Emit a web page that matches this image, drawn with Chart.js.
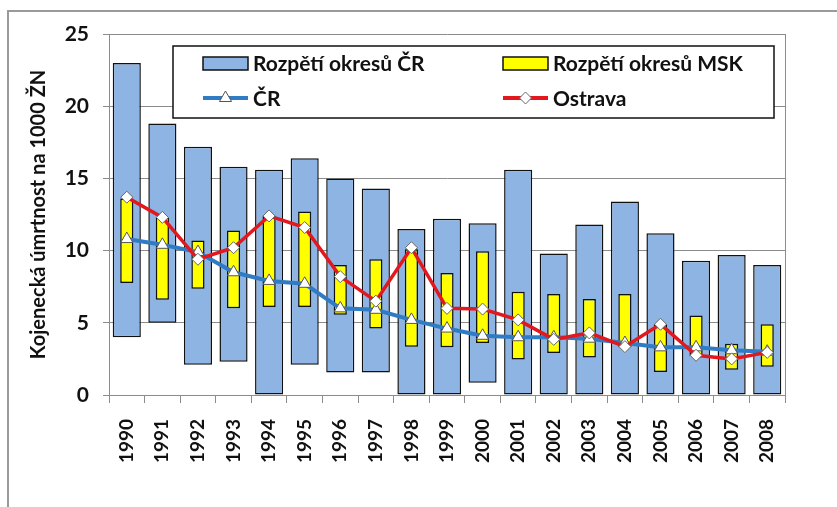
<!DOCTYPE html>
<html lang="cs">
<head>
<meta charset="UTF-8">
<title>Kojenecká úmrtnost</title>
<script src="https://cdn.jsdelivr.net/npm/chart.js"></script>
<style>
  body {
    margin: 0;
    background: #fff;
  }
  #wrap {
    width: 837px;
    height: 507px;
  }
</style>
</head>
<body>

<div id="wrap"><canvas id="chart" width="837" height="507"></canvas></div>

<script>
const years = ['1990', '1991', '1992', '1993', '1994', '1995', '1996', '1997', '1998', '1999',
  '2000', '2001', '2002', '2003', '2004', '2005', '2006', '2007', '2008'];

// rozpětí okresů ČR (min, max)
const crMin = [4.0, 5.0, 2.1, 2.3, 0, 2.1, 1.55, 1.55, 0, 0, 0.85, 0, 0, 0, 0, 0, 0, 0, 0];
const crMax = [23.0, 18.8, 17.2, 15.8, 15.6, 16.4, 15.0, 14.3, 11.5, 12.2, 11.9, 15.6, 9.8, 11.8, 13.4, 11.2, 9.3, 9.7, 9.0];

// rozpětí okresů MSK (min, max)
const mskMin = [7.75, 6.6, 7.35, 6.0, 6.1, 6.1, 5.55, 4.6, 3.35, 3.3, 3.6, 2.45, 2.9, 2.6, 3.3, 1.6, 2.7, 1.75, 1.95];
const mskMax = [13.6, 12.3, 10.7, 11.4, 12.4, 12.7, 9.0, 9.4, 10.1, 8.45, 9.95, 7.15, 7.0, 6.65, 7.0, 4.9, 5.5, 3.55, 4.9];

const crLine = [10.8, 10.4, 9.9, 8.5, 7.9, 7.7, 6.0, 5.9, 5.2, 4.6, 4.1, 4.0, 4.0, 3.9, 3.6, 3.3, 3.3, 3.1, 3.0];
const ostrava = [13.7, 12.3, 9.4, 10.2, 12.4, 11.6, 8.2, 6.5, 10.2, 6.0, 5.95, 5.2, 3.85, 4.3, 3.35, 4.9, 2.75, 2.5, 2.95];

const yTicks = [0, 5, 10, 15, 20, 25];

const FONT = 'Lato, "Open Sans", sans-serif';

// frame + right border of the plot
const framePlugin = {
  id: 'frame',
  beforeDraw(chart) {
    const c = chart.ctx;
    c.save();
    c.fillStyle = '#fff';
    c.fillRect(0, 0, chart.width, chart.height);
    c.strokeStyle = '#9a9a9a';
    c.lineWidth = 2;
    c.beginPath();
    c.moveTo(8, chart.height);
    c.lineTo(8, 11);
    c.lineTo(chart.width, 11);
    c.stroke();
    c.restore();
  },
  afterDatasetsDraw(chart) {
    const a = chart.chartArea;
    const c = chart.ctx;
    c.save();
    c.strokeStyle = '#8c8c8c';
    c.lineWidth = 1;
    c.beginPath();
    c.moveTo(a.right + 0.5, a.top);
    c.lineTo(a.right + 0.5, a.bottom);
    c.stroke();
    c.restore();
  }
};

// legend drawn inside the plot, two columns
const legendBox = {
  id: 'legendBox',
  afterDraw(chart) {
    const c = chart.ctx;
    const ds = chart.data.datasets;
    const box = { x: 173, y: 46, w: 601, h: 72 };
    c.save();
    c.fillStyle = '#fff';
    c.fillRect(box.x, box.y, box.w, box.h);
    c.strokeStyle = '#111';
    c.lineWidth = 1.5;
    c.strokeRect(box.x, box.y, box.w, box.h);

    const slots = [
      { d: ds[3], x: 203, y: 63 },
      { d: ds[2], x: 503, y: 63 },
      { d: ds[1], x: 203, y: 98 },
      { d: ds[0], x: 503, y: 98 }
    ];
    slots.forEach(s => {
      const d = s.d;
      if (d.type === 'bar') {
        c.fillStyle = d.backgroundColor;
        c.fillRect(s.x, s.y - 6, 45, 13);
        c.strokeStyle = '#111';
        c.lineWidth = 1.5;
        c.strokeRect(s.x, s.y - 6, 45, 13);
      } else {
        c.strokeStyle = d.borderColor;
        c.lineWidth = 4;
        c.beginPath();
        c.moveTo(s.x, s.y);
        c.lineTo(s.x + 45, s.y);
        c.stroke();
        c.fillStyle = '#fff';
        c.strokeStyle = d.pointBorderColor;
        c.lineWidth = 1;
        Chart.helpers.drawPoint(c, {
          pointStyle: d.pointStyle, radius: d.pointRadius, borderWidth: 1
        }, s.x + 22.5, s.y);
      }
      c.font = 'bold 21px ' + FONT;
      c.textBaseline = 'middle';
      c.fillStyle = '#111';
      c.fillText(d.label, s.x + 50, s.y + 1);
    });
    c.restore();
  }
};

new Chart(document.getElementById('chart'), {
  data: {
    labels: years,
    datasets: [
      {
        type: 'line',
        label: 'Ostrava',
        data: ostrava,
        borderColor: '#e3171e',
        borderWidth: 3.5,
        pointStyle: 'rectRot',
        pointRadius: 6,
        pointBackgroundColor: '#fff',
        pointBorderColor: '#666',
        pointBorderWidth: 1,
        tension: 0,
        order: 1
      },
      {
        type: 'line',
        label: 'ČR',
        data: crLine,
        borderColor: '#2f7bc4',
        borderWidth: 4,
        pointStyle: 'triangle',
        pointRadius: 7,
        pointBackgroundColor: '#fff',
        pointBorderColor: '#555',
        pointBorderWidth: 1,
        tension: 0,
        order: 2
      },
      {
        type: 'bar',
        label: 'Rozpětí okresů MSK',
        data: mskMin.map((v, i) => [v, mskMax[i]]),
        backgroundColor: '#ffff00',
        borderColor: '#111',
        borderWidth: 1.5,
        borderSkipped: false,
        grouped: false,
        barPercentage: 0.37,
        categoryPercentage: 1,
        order: 3
      },
      {
        type: 'bar',
        label: 'Rozpětí okresů ČR',
        data: crMin.map((v, i) => [v, crMax[i]]),
        backgroundColor: '#8db4e3',
        borderColor: '#111',
        borderWidth: 1.5,
        borderSkipped: false,
        grouped: false,
        barPercentage: 0.79,
        categoryPercentage: 1,
        order: 4
      }
    ]
  },
  options: {
    responsive: false,
    animation: false,
    layout: { padding: { top: 34, right: 52, left: 0, bottom: 0 } },
    plugins: {
      legend: { display: false },
      tooltip: { enabled: false }
    },
    scales: {
      x: {
        offset: true,
        afterFit: s => { s.height = 112; },
        grid: { drawOnChartArea: false, offset: true, tickLength: 8, color: '#8c8c8c' },
        border: { color: '#8c8c8c' },
        ticks: {
          minRotation: 90,
          maxRotation: 90,
          padding: 16,
          color: '#111',
          font: { family: FONT, size: 19, weight: 'bold' }
        }
      },
      y: {
        min: 0,
        max: 25,
        afterFit: s => { s.width = 109; },
        afterBuildTicks: s => { s.ticks = yTicks.map(v => ({ value: v })); },
        grid: { color: '#8c8c8c', tickLength: 6 },
        border: { color: '#8c8c8c' },
        ticks: {
          padding: 14,
          color: '#111',
          font: { family: FONT, size: 21, weight: 'bold' }
        },
        title: {
          display: true,
          text: 'Kojenecká úmrtnost na 1000 ŽN',
          color: '#111',
          padding: { top: 27 },
          font: { family: FONT, size: 20, weight: 'bold' }
        }
      }
    }
  },
  plugins: [framePlugin, legendBox]
});
</script>

</body>
</html>
